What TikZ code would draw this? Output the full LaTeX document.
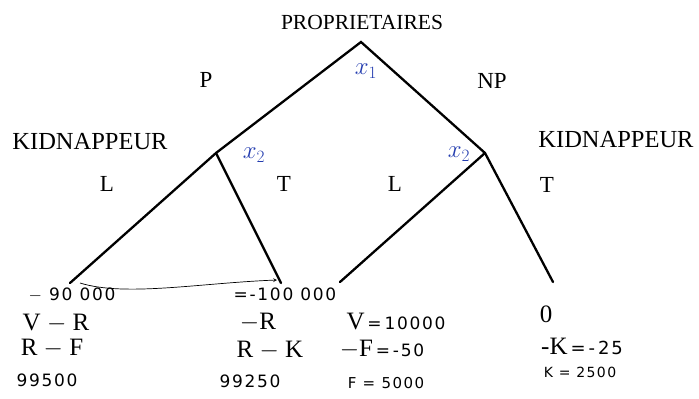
\documentclass[tikz,border=0pt]{standalone}
\usepackage{fontspec}
\setmainfont{Liberation Serif}
\newfontfamily\handfont[LetterSpace=10]{DejaVu Sans}
\definecolor{penblue}{RGB}{35,60,175}
\begin{document}
\begin{tikzpicture}[x=1pt,y=-1pt,
  lbl/.style={font=\fontsize{23}{25}\selectfont, inner sep=0pt},
  big/.style={font=\fontsize{25}{27}\selectfont, inner sep=0pt},
  hand/.style={font=\handfont\fontsize{17}{19}\selectfont, inner sep=0pt},
  handblue/.style={font=\fontsize{27}{29}\selectfont, text=penblue, inner sep=0pt},
  branch/.style={line width=2.3pt, line cap=round}]
\useasboundingbox (0,0) rectangle (699,399);
% tree nodes
\coordinate (root) at (361,42);
\coordinate (pl) at (216,153);
\coordinate (np) at (485,153);
\coordinate (l1) at (70,283);
\coordinate (t1) at (281,283);
\coordinate (l2) at (340,282);
\coordinate (t2) at (553,282);
\draw[branch] (l1) -- (pl) -- (root) -- (np) -- (t2);
\draw[branch] (pl) -- (t1);
\draw[branch] (np) -- (l2);
% labels
\node[font=\fontsize{21.5}{23}\selectfont, inner sep=0pt] (prop) at (362,22) {PROPRIETAIRES};
\node[lbl] (p) at (206,80) {P};
\node[lbl] (npl) at (492,81) {NP};
\node[font=\fontsize{24.5}{26}\selectfont, inner sep=0pt] (k1) at (90,142) {KIDNAPPEUR};
\node[font=\fontsize{24.5}{26}\selectfont, inner sep=0pt] (k2) at (616,140) {KIDNAPPEUR};
\node[lbl] (la) at (107,184) {L};
\node[lbl] (ta) at (284,184) {T};
\node[lbl] (lb) at (395,184) {L};
\node[lbl] (tb) at (547,185) {T};
\node[handblue] (x1) at (366,71) {$x_1$};
\node[handblue] (x2a) at (254,155) {$x_2$};
\node[handblue] (x2b) at (459,154) {$x_2$};
% arrow
\coordinate (as) at (80,283);
\coordinate (ae) at (277,280);
\draw[line width=0.7pt, ->, >=stealth] (as) .. controls (125,297) and (200,283) .. (ae);
% payoffs column 1
\node[hand] (c1a) at (72,295) {$-$ 90 000};
\node[big] (c1b) at (56,323) {V $-$ R};
\node[big] (c1c) at (52,348) {R $-$ F};
\node[hand] (c1d) at (47,380) {99500};
% column 2
\node[hand] (c2a) at (285,294) {=-100 000};
\node[big] (c2b) at (258,322) {$-$R};
\node[big] (c2c) at (270,350) {R $-$ K};
\node[hand] (c2d) at (250,381) {99250};
% column 3
\node[big] (c3a) at (396,321) {V{\handfont\fontsize{17}{19}\selectfont\,=\,10000}};
\node[big] (c3b) at (382,349) {$-$F{\handfont\fontsize{17}{19}\selectfont\,=\,-50}};
\node[hand, font=\handfont\fontsize{15}{17}\selectfont] (c3c) at (386,383) {F = 5000};
% column 4
\node[big] (c4a) at (546,314) {0};
\node[big] (c4b) at (582,346) {-K{\handfont\fontsize{18}{20}\selectfont\,=\,-\,25}};
\node[hand, font=\handfont\fontsize{14}{16}\selectfont] (c4c) at (580,372) {K = 2500};
\end{tikzpicture}
\end{document}
